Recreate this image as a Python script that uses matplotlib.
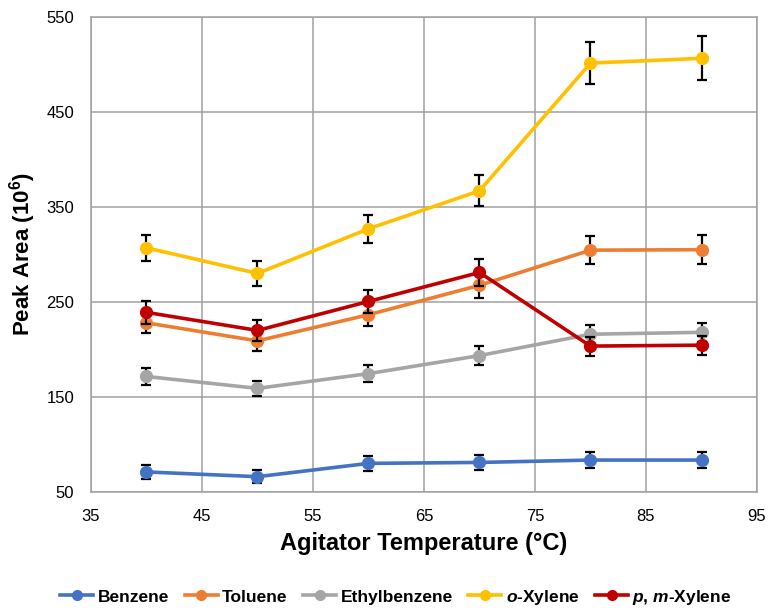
import matplotlib
matplotlib.use('Agg')
import matplotlib.pyplot as plt
from matplotlib.lines import Line2D

plt.rcParams['font.family'] = ['Liberation Sans', 'DejaVu Sans']
plt.rcParams['mathtext.fontset'] = 'custom'
plt.rcParams['mathtext.it'] = 'Liberation Sans:italic:bold'
plt.rcParams['mathtext.bf'] = 'Liberation Sans:bold'
plt.rcParams['mathtext.rm'] = 'Liberation Sans'

# data
Temp = [40, 50, 60, 70, 80, 90]
Names = ['Benzene', 'Toluene', 'Ethylbenzene', r'$\mathit{o}$-Xylene', r'$\mathit{p}$, $\mathit{m}$-Xylene']
Colors = ['#4472C4', '#ED7D31', '#A5A5A5', '#FFC000', '#C00000']

Benzene = [71, 66, 80, 81, 83.5, 83.5]
Toluene = [228, 209, 236.5, 267.5, 304.5, 305]
Ethylbenzene = [171.5, 159, 174.5, 193.5, 216, 218]
oXylene = [307, 280, 327, 367, 501.5, 506.5]
pmXylene = [239, 220, 250.5, 281, 203.5, 204.5]

BenzeneErr = [7, 7, 7.5, 7.5, 8.5, 8.5]
TolueneErr = [11, 11, 12, 13.5, 15, 15]
EthylbenzeneErr = [8.5, 8, 9, 10, 10, 10]
oXyleneErr = [14, 13, 15, 16.5, 22.5, 23]
pmXyleneErr = [12, 11, 12.5, 14, 10, 10]

Series = [Benzene, Toluene, Ethylbenzene, oXylene, pmXylene]
Errors = [BenzeneErr, TolueneErr, EthylbenzeneErr, oXyleneErr, pmXyleneErr]

fig = plt.figure(figsize=(7.69, 6.08), dpi=100)
ax = fig.add_axes([0.1183, 0.191, 0.8661, 0.781])

handles = []
for i in range(len(Series)):
    ax.errorbar(Temp, Series[i], yerr=Errors[i], color=Colors[i], ecolor='black',
                elinewidth=1.6, capsize=3.5, capthick=1.6, lw=2.6,
                marker='o', ms=8.5, zorder=3 + i)
    handles.append(Line2D([], [], color=Colors[i], lw=2.6, marker='o', ms=7))

ax.set_xlim(35, 95)
ax.set_ylim(50, 550)
ax.set_xticks(range(35, 96, 10))
ax.set_yticks(range(50, 551, 100))
ax.grid(True, color='#a0a0a0', lw=1.1)
ax.set_axisbelow(True)
for s in ax.spines.values():
    s.set_color('#a0a0a0')
    s.set_linewidth(1.1)
ax.tick_params(length=0)
ax.tick_params(axis='x', labelsize=12, pad=12)
ax.tick_params(axis='y', labelsize=12, pad=12)

ax.set_xlabel('Agitator Temperature (°C)', fontsize=17, fontweight='bold', labelpad=6)
ax.set_ylabel(r'Peak Area (10$^{\mathbf{6}}$)', fontsize=16, fontweight='bold')
# right edge of the rotated label sits at about x = 38 px
ax.yaxis.set_label_coords(-(91 - 38) / 666, (492 - 254) / 475)

fig.legend(handles, Names, loc='center', bbox_to_anchor=(396 / 769, 0.018), ncol=5, frameon=False,
           prop={'weight': 'bold', 'size': 12.5},
           handlelength=1.9, columnspacing=0.9, handletextpad=0.25)

fig.savefig('out.png', dpi=100)
